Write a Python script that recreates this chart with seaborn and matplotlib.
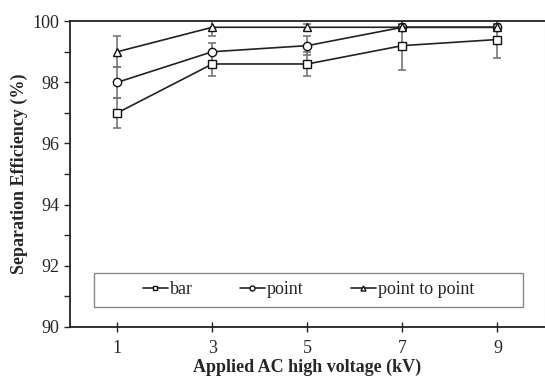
import numpy as np
import pandas as pd
import seaborn as sns
import matplotlib.pyplot as plt
from matplotlib.ticker import MultipleLocator
from matplotlib.patches import Rectangle

voltage = [1, 3, 5, 7, 9]
bar = [97.0, 98.6, 98.6, 99.2, 99.4]
point = [98.0, 99.0, 99.2, 99.8, 99.8]
p2p = [99.0, 99.8, 99.8, 99.8, 99.8]
bar_err = [0.5, 0.4, 0.4, 0.8, 0.6]
point_err = [0.5, 0.3, 0.3, 0.1, 0.1]
p2p_err = [0.5, 0.3, 0.1, 0.1, 0.1]
names = ['bar', 'point', 'point to point']

sns.set_style('ticks')
plt.rcParams['font.family'] = ['Liberation Serif', 'DejaVu Serif']

rows = []
for name, vals, errs in zip(names, [bar, point, p2p], [bar_err, point_err, p2p_err]):
    for v, y, e in zip(voltage, vals, errs):
        rows.append({'voltage': v, 'eff': y, 'err': e, 'electrode': name})
df = pd.DataFrame(rows)

fig = plt.figure(figsize=(5.45, 3.78), dpi=100)
ax = fig.add_axes([0.128, 0.135, 0.872, 0.809])

# error bars first, in gray
for name in names:
    d = df[df['electrode'] == name]
    ax.errorbar(d['voltage'], d['eff'], yerr=d['err'], fmt='none', ecolor='#777777',
                elinewidth=1.2, capsize=3, capthick=1.2, zorder=1)

sns.lineplot(data=df, x='voltage', y='eff', hue='electrode', style='electrode',
             hue_order=names, style_order=names,
             palette=['#222222'] * 3, markers={'bar': 's', 'point': 'o', 'point to point': '^'},
             dashes=False, markersize=6, markerfacecolor='white', markeredgecolor='#111111',
             markeredgewidth=1.0, linewidth=1.2, ax=ax, zorder=3)

ax.set_xlim(0, 10)
ax.set_ylim(90, 100)
ax.set_xticks(voltage)
ax.yaxis.set_major_locator(MultipleLocator(2))
ax.yaxis.set_minor_locator(MultipleLocator(1))
ax.tick_params(axis='x', direction='inout', length=7, width=1, labelsize=13, pad=6)
ax.tick_params(axis='y', which='both', direction='out', length=4, width=1, labelsize=13)
for s in ['left', 'bottom', 'top']:
    ax.spines[s].set_linewidth(1.3)
    ax.spines[s].set_color('#222222')
ax.spines['right'].set_color('#cccccc')

ax.set_xlabel('Applied AC high voltage (kV)', fontsize=13, fontweight='bold', labelpad=1)
ax.set_ylabel('Separation Efficiency (%)', fontsize=13, fontweight='bold', labelpad=3)

# wide legend box drawn separately
ax.add_patch(Rectangle((0.0505, 0.065), 0.9035, 0.111, transform=ax.transAxes,
                       facecolor='white', edgecolor='#888888', linewidth=1.0, zorder=4))
leg = ax.legend(loc='center', bbox_to_anchor=(0.502, 0.121), ncol=3, fontsize=13,
                frameon=False, handlelength=1.4, columnspacing=2.6, handletextpad=0.1,
                markerscale=0.6, borderaxespad=0)
leg.set_zorder(5)

fig.savefig('out.png', dpi=100)
